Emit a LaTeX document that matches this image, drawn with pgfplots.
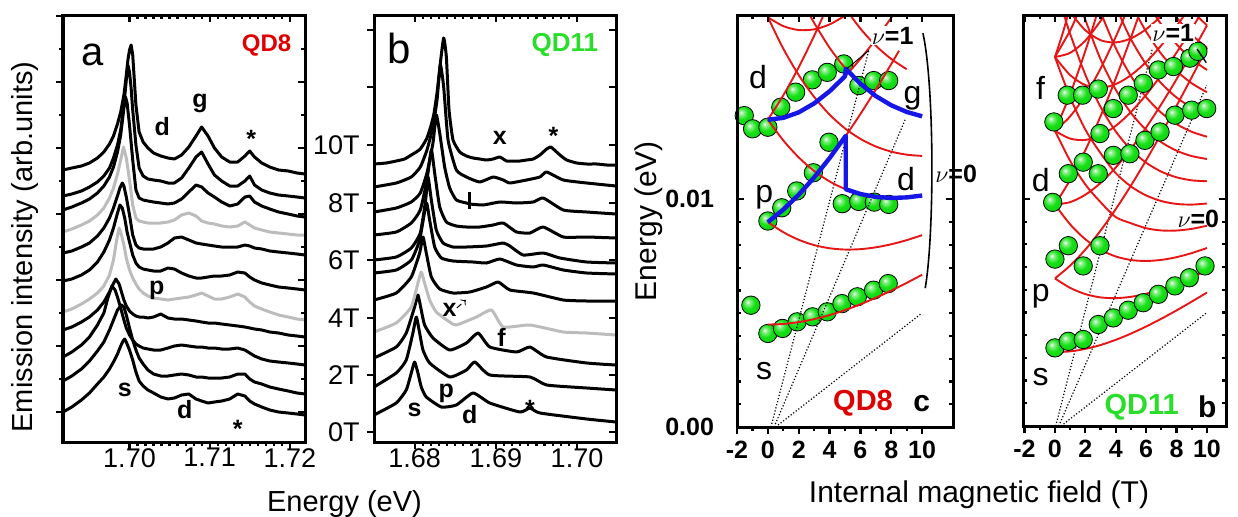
\documentclass[border=0pt]{standalone}
\usepackage{fontspec}
\setmainfont{Liberation Sans}
\usepackage{pgfplots}
\pgfplotsset{compat=1.18}

\definecolor{specgray}{RGB}{188,188,188}
\definecolor{fdred}{RGB}{230,22,22}
\definecolor{fdblue}{RGB}{22,22,230}
\definecolor{qdgreen}{RGB}{40,222,40}
\definecolor{qdred}{RGB}{222,0,0}
\definecolor{ballgreen}{RGB}{20,225,20}

\newcommand{\fs}[1]{\fontsize{#1}{#1}\selectfont}
\pgfdeclareradialshading{gball}{\pgfpoint{-9bp}{9bp}}{color(0bp)=(white); color(5bp)=(white!55!ballgreen); color(17bp)=(ballgreen); color(42bp)=(ballgreen!88!black); color(60bp)=(ballgreen!75!black)}
\pgfdeclareplotmark{gball}{\shade[shading=gball] (0pt,0pt) circle (\pgfplotmarksize);}

\tikzset{lab/.style={font=\bfseries\fs{12.5}, inner sep=0pt}}
\pgfplotsset{
  panel/.style={scale only axis, anchor=south west,
    axis line style={line width=1.5pt},
    tick style={line width=1.1pt, black},
    major tick length=3.6pt, minor tick length=1.9pt,
    scaled ticks=false, clip mode=individual,
    /pgf/number format/assume math mode=true},
  sp/.style={black, line width=1.5pt, line join=round},
  spg/.style={specgray, line width=1.5pt, line join=round},
  fd/.style={fdred, line width=0.95pt, smooth},
  bl/.style={fdblue, line width=2.2pt, line join=round},
  dots/.style={black, densely dotted, line width=0.6pt},
  balls/.style={only marks, mark=gball, mark size=4.6pt},
}

\begin{document}
\begin{tikzpicture}
\useasboundingbox (0,0) rectangle (619pt,258pt);

% ---------------- panel a : QD8 spectra
\begin{axis}[panel, at={(31.5pt,37pt)}, width=121pt, height=213.5pt,
  xmin=1.6917, xmax=1.7219, ymin=0, ymax=427,
  xtick={1.70,1.71,1.72}, xticklabels={1.70,1.71,1.72}, minor x tick num=9,
  ytick={30,96,162,228,294,360,426}, yticklabels={}, minor y tick num=1,
  tick align=outside, xtick pos=left, ytick pos=left,
  xticklabel style={font=\fs{13.5}, yshift=4pt}]
% 0T
\addplot[sp] coordinates {(1.6917,30)(1.6928,35)(1.6940,42)(1.6950,49)(1.6960,58)(1.6968,65)(1.6975,73)(1.6980,80)(1.6985,88)(1.6989,96)(1.6992,101)(1.6994,103)(1.6996,100)(1.7000,92)(1.7004,82)(1.7008,70)(1.7012,61)(1.7017,56)(1.7023,52)(1.7030,49)(1.7039,45)(1.7048,43)(1.7056,44)(1.7065,47)(1.7074,48)(1.7083,43)(1.7090,41)(1.7098,39)(1.7106,40)(1.7115,41)(1.7125,43)(1.7135,48)(1.7144,46)(1.7150,41)(1.7156,38)(1.7165,35)(1.7175,32)(1.7186,30)(1.7198,29)(1.7209,28)(1.7219,27)};
% 1T
\addplot[sp] coordinates {(1.6917,61)(1.6928,66)(1.6940,73)(1.6950,81)(1.6960,91)(1.6968,100)(1.6975,112)(1.6980,122)(1.6985,132)(1.6990,137)(1.6993,135)(1.6996,127)(1.7000,114)(1.7004,102)(1.7008,92)(1.7012,84)(1.7017,78)(1.7023,72)(1.7030,68)(1.7039,66)(1.7048,66)(1.7056,67)(1.7065,68)(1.7074,67)(1.7083,65)(1.7090,65)(1.7098,64)(1.7106,64)(1.7115,64)(1.7125,65)(1.7135,68)(1.7144,68)(1.7150,63)(1.7156,60)(1.7165,58)(1.7175,55)(1.7186,53)(1.7198,51)(1.7209,49)(1.7219,48)};
% 2T
\addplot[sp] coordinates {(1.6917,85)(1.6928,90)(1.6940,97)(1.6950,105)(1.6960,117)(1.6968,129)(1.6973,144)(1.6978,156)(1.6982,152)(1.6985,145)(1.6989,134)(1.6993,122)(1.6996,114)(1.7000,107)(1.7004,102)(1.7008,98)(1.7012,96)(1.7017,94)(1.7023,93)(1.7030,92)(1.7039,92)(1.7048,94)(1.7056,96)(1.7065,97)(1.7074,96)(1.7083,95)(1.7090,95)(1.7098,94)(1.7106,94)(1.7115,93)(1.7125,93)(1.7135,94)(1.7144,92)(1.7150,89)(1.7156,86)(1.7165,83)(1.7175,81)(1.7186,80)(1.7198,79)(1.7209,78)(1.7219,77)};
% 3T
\addplot[sp] coordinates {(1.6917,112)(1.6928,115)(1.6940,120)(1.6950,125)(1.6960,132)(1.6968,140)(1.6975,150)(1.6979,157)(1.6983,163)(1.6987,158)(1.6990,150)(1.6993,142)(1.6996,136)(1.7000,131)(1.7004,128)(1.7008,126)(1.7012,125)(1.7017,125)(1.7023,124)(1.7030,125)(1.7039,128)(1.7048,124)(1.7056,123)(1.7065,123)(1.7074,122)(1.7083,121)(1.7090,120)(1.7098,119)(1.7106,119)(1.7115,118)(1.7125,117)(1.7135,116)(1.7144,115)(1.7150,114)(1.7156,113)(1.7165,112)(1.7175,110)(1.7186,109)(1.7198,107)(1.7209,106)(1.7219,105)};
% 4T (grey)
\addplot[spg] coordinates {(1.6917,130)(1.6928,133)(1.6940,138)(1.6950,143)(1.6960,149)(1.6968,156)(1.6975,167)(1.6980,182)(1.6984,202)(1.6987,214)(1.6989,210)(1.6993,197)(1.6996,184)(1.7000,172)(1.7004,164)(1.7008,158)(1.7012,153)(1.7017,149)(1.7023,146)(1.7030,144)(1.7039,143)(1.7048,142)(1.7056,143)(1.7065,144)(1.7074,145)(1.7083,147)(1.7090,149)(1.7098,146)(1.7106,143)(1.7115,143)(1.7125,145)(1.7135,148)(1.7144,145)(1.7150,140)(1.7156,136)(1.7165,133)(1.7175,130)(1.7186,127)(1.7198,125)(1.7209,123)(1.7219,122)};
% 5T
\addplot[sp] coordinates {(1.6917,161)(1.6928,163)(1.6940,167)(1.6950,172)(1.6960,180)(1.6968,190)(1.6975,202)(1.6980,214)(1.6985,229)(1.6988,237)(1.6991,234)(1.6994,224)(1.6997,210)(1.7000,200)(1.7004,187)(1.7008,179)(1.7012,175)(1.7017,173)(1.7023,172)(1.7030,171)(1.7039,171)(1.7048,174)(1.7056,173)(1.7065,169)(1.7074,166)(1.7083,164)(1.7090,164)(1.7098,165)(1.7106,166)(1.7115,166)(1.7125,167)(1.7135,170)(1.7144,169)(1.7150,165)(1.7156,162)(1.7165,159)(1.7175,157)(1.7186,155)(1.7198,154)(1.7209,153)(1.7219,152)};
% 6T
\addplot[sp] coordinates {(1.6917,189)(1.6928,191)(1.6940,195)(1.6950,199)(1.6960,206)(1.6968,214)(1.6975,224)(1.6980,234)(1.6985,246)(1.6988,254)(1.6991,259)(1.6993,256)(1.6996,245)(1.7000,227)(1.7004,207)(1.7008,197)(1.7012,194)(1.7017,193)(1.7023,193)(1.7030,193)(1.7039,195)(1.7048,199)(1.7056,204)(1.7065,205)(1.7074,202)(1.7083,199)(1.7090,198)(1.7098,197)(1.7106,196)(1.7115,195)(1.7125,195)(1.7135,195)(1.7144,197)(1.7150,196)(1.7156,194)(1.7165,193)(1.7175,191)(1.7186,190)(1.7198,189)(1.7209,188)(1.7219,187)};
% 7T (grey)
\addplot[spg] coordinates {(1.6917,210)(1.6928,213)(1.6940,217)(1.6950,221)(1.6960,227)(1.6968,234)(1.6975,244)(1.6980,254)(1.6985,268)(1.6989,282)(1.69925,295)(1.6996,284)(1.7000,262)(1.7004,237)(1.7008,224)(1.7012,221)(1.7017,220)(1.7023,219)(1.7030,219)(1.7039,219)(1.7048,220)(1.7056,222)(1.7065,227)(1.7074,229)(1.7083,226)(1.7090,221)(1.7098,219)(1.7106,218)(1.7115,216)(1.7125,215)(1.7135,216)(1.7144,220)(1.7150,217)(1.7156,214)(1.7165,212)(1.7175,210)(1.7186,209)(1.7198,208)(1.7209,207)(1.7219,207)};
% 8T
\addplot[sp] coordinates {(1.6917,232)(1.6928,235)(1.6940,239)(1.6950,243)(1.6960,249)(1.6968,256)(1.6975,265)(1.6980,275)(1.6985,290)(1.6989,307)(1.6993,334)(1.6995,345)(1.6997,339)(1.7000,317)(1.7004,282)(1.7008,252)(1.7012,244)(1.7017,242)(1.7023,241)(1.7030,240)(1.7039,239)(1.7048,238)(1.7056,239)(1.7065,243)(1.7074,250)(1.7083,257)(1.7090,255)(1.7098,249)(1.7106,245)(1.7115,240)(1.7125,236)(1.7135,238)(1.7144,245)(1.7150,246)(1.7156,240)(1.7165,236)(1.7175,233)(1.7186,230)(1.7198,228)(1.7209,226)(1.7219,225)};
% 9T
\addplot[sp] coordinates {(1.6917,246)(1.6928,248)(1.6940,251)(1.6950,255)(1.6960,260)(1.6968,266)(1.6975,274)(1.6980,284)(1.6985,297)(1.6989,312)(1.6993,337)(1.6996,362)(1.6998,377)(1.7000,370)(1.7002,354)(1.7004,332)(1.7008,297)(1.7012,274)(1.7017,266)(1.7023,263)(1.7030,262)(1.7039,261)(1.7048,259)(1.7056,259)(1.7065,264)(1.7074,274)(1.7083,285)(1.7090,290)(1.7098,278)(1.7106,267)(1.7115,261)(1.7125,256)(1.7135,256)(1.7144,261)(1.7150,266)(1.7156,257)(1.7165,252)(1.7175,249)(1.7186,247)(1.7198,246)(1.7209,245)(1.7219,244)};
% 10T
\addplot[sp] coordinates {(1.6917,272)(1.6928,274)(1.6940,276)(1.6950,279)(1.6960,284)(1.6968,290)(1.6975,298)(1.6980,306)(1.6985,318)(1.6989,330)(1.6993,347)(1.6996,367)(1.6998,382)(1.7000,392)(1.7002,397)(1.7004,387)(1.7006,362)(1.7008,337)(1.7012,310)(1.7017,300)(1.7023,294)(1.7030,289)(1.7039,286)(1.7048,284)(1.7056,283)(1.7065,287)(1.7074,295)(1.7083,306)(1.7090,315)(1.7098,306)(1.7106,294)(1.7115,285)(1.7125,280)(1.7135,280)(1.7144,286)(1.7150,291)(1.7156,285)(1.7165,279)(1.7175,275)(1.7186,272)(1.7198,271)(1.7209,269)(1.7219,268)};
\node[font=\fs{20}] at (axis cs:1.6954,387) {a};
\node[font=\bfseries\fs{12}, text=qdred] at (axis cs:1.7171,397) {QD8};
\node[lab] at (axis cs:1.7041,315) {d};
\node[lab] at (axis cs:1.7088,339) {g};
\node[lab, yshift=-2.7pt] at (axis cs:1.7152,309) {*};
\node[lab] at (axis cs:1.7034,152) {p};
\node[lab] at (axis cs:1.6994,52) {s};
\node[lab] at (axis cs:1.7069,32) {d};
\node[lab, yshift=-2.7pt] at (axis cs:1.7135,19) {*};
\end{axis}
\begin{axis}[panel, at={(31.5pt,37pt)}, width=121pt, height=213.5pt,
  xmin=1.6917, xmax=1.7219, ymin=0, ymax=427,
  xtick={1.70,1.71,1.72}, xticklabels={}, minor x tick num=9,
  ytick={30,96,162,228,294,360,426}, yticklabels={}, minor y tick num=1,
  tick align=inside, xtick pos=right, ytick pos=right]
\end{axis}

% ---------------- panel b : QD11 spectra
\begin{axis}[panel, at={(187pt,37pt)}, width=121pt, height=213.5pt,
  xmin=1.6750, xmax=1.7048, ymin=0, ymax=427,
  xtick={1.68,1.69,1.70}, xticklabels={1.68,1.69,1.70}, minor x tick num=9,
  ytick={10,67,124,182,239,297,355,412}, yticklabels={0T,2T,4T,6T,8T,10T,,},
  tick align=outside, xtick pos=left, ytick pos=left,
  xticklabel style={font=\fs{13.5}, yshift=4pt},
  yticklabel style={font=\fs{13.5}}]
\addplot[sp, smooth, tension=0.3] coordinates {(1.6750,27)(1.67774,39)(1.67897,52)(1.67959,69)(1.68000,80)(1.68041,69)(1.68082,55)(1.68144,45)(1.68329,35)(1.68514,37)(1.68720,49)(1.68926,39)(1.69296,30)(1.69420,34)(1.69543,29)(1.70119,23)(1.7048,20)};
\addplot[sp, smooth, tension=0.3] coordinates {(1.6750,55)(1.67774,69)(1.67897,82)(1.67979,109)(1.68021,125)(1.68062,109)(1.68103,92)(1.68185,79)(1.68432,65)(1.68638,72)(1.68741,80)(1.68926,67)(1.69420,65)(1.69626,57)(1.70119,54)(1.7048,52)};
\addplot[sp, smooth, tension=0.3] coordinates {(1.6750,84)(1.67774,95)(1.67897,109)(1.68000,135)(1.68041,147)(1.68082,132)(1.68123,117)(1.68226,104)(1.68432,92)(1.68638,99)(1.68782,109)(1.68926,95)(1.69255,90)(1.69420,95)(1.69626,85)(1.70119,79)(1.7048,77)};
\addplot[spg, smooth, tension=0.3] coordinates {(1.6750,110)(1.67774,119)(1.67959,135)(1.68041,159)(1.68082,170)(1.68123,159)(1.68185,142)(1.68267,130)(1.68432,120)(1.68514,117)(1.68761,125)(1.68947,132)(1.69091,115)(1.69420,117)(1.69831,110)(1.70119,109)(1.7048,107)};
\addplot[sp, smooth, tension=0.3] coordinates {(1.6750,142)(1.67774,149)(1.67959,165)(1.68062,189)(1.68103,205)(1.68144,189)(1.68206,165)(1.68309,153)(1.68473,149)(1.68679,150)(1.68885,155)(1.69029,160)(1.69173,152)(1.69461,149)(1.69831,142)(1.70119,141)(1.7048,141)};
\addplot[sp, smooth, tension=0.3] coordinates {(1.6750,169)(1.67774,172)(1.67959,182)(1.68062,202)(1.68144,239)(1.68185,222)(1.68247,195)(1.68329,184)(1.68473,181)(1.68720,180)(1.68885,179)(1.69049,183)(1.69255,177)(1.69461,175)(1.69584,177)(1.69831,172)(1.70119,169)(1.7048,168)};
\addplot[sp, smooth, tension=0.3] coordinates {(1.6750,182)(1.67774,185)(1.67959,194)(1.68070,209)(1.68136,242)(1.68165,265)(1.68206,242)(1.68267,212)(1.68350,199)(1.68473,195)(1.68638,195)(1.68885,196)(1.69091,199)(1.69173,196)(1.69337,187)(1.69584,189)(1.69790,184)(1.70119,180)(1.7048,179)};
\addplot[sp, smooth, tension=0.3] coordinates {(1.6750,207)(1.67774,210)(1.67959,219)(1.68070,232)(1.68152,262)(1.68206,292)(1.68247,269)(1.68309,235)(1.68391,220)(1.68514,216)(1.68638,215)(1.68802,215)(1.68967,217)(1.69091,219)(1.69255,210)(1.69420,209)(1.69584,215)(1.69831,205)(1.70119,205)(1.7048,204)};
\addplot[sp, smooth, tension=0.3] coordinates {(1.6750,230)(1.67774,234)(1.67959,240)(1.68070,249)(1.68152,269)(1.68226,299)(1.68267,327)(1.68309,309)(1.68370,275)(1.68432,254)(1.68514,242)(1.68638,239)(1.68679,238)(1.68844,237)(1.69049,240)(1.69255,239)(1.69461,240)(1.69584,244)(1.69831,232)(1.70119,230)(1.7048,228)};
\addplot[sp, smooth, tension=0.3] coordinates {(1.6750,255)(1.67774,259)(1.67959,265)(1.68070,275)(1.68152,292)(1.68226,315)(1.68276,342)(1.68317,377)(1.68358,355)(1.68412,302)(1.68514,272)(1.68638,265)(1.68802,260)(1.68967,265)(1.69091,262)(1.69173,259)(1.69379,262)(1.69543,265)(1.69626,270)(1.69831,262)(1.70119,259)(1.7048,256)};
\addplot[sp, smooth, tension=0.3] coordinates {(1.6750,278)(1.67650,279)(1.67774,281)(1.67877,283)(1.67959,287)(1.68021,290)(1.68070,293)(1.68111,298)(1.68152,304)(1.68193,314)(1.68235,327)(1.68276,349)(1.68317,379)(1.68358,404)(1.68391,385)(1.68424,332)(1.68473,302)(1.68556,290)(1.68638,286)(1.68720,284)(1.68802,283)(1.68885,282)(1.68967,283)(1.69049,285)(1.69132,281)(1.69214,281)(1.69296,281)(1.69379,282)(1.69461,283)(1.69543,287)(1.69626,293)(1.69675,295)(1.69708,293)(1.69790,287)(1.69872,282)(1.69996,279)(1.70119,278)(1.70243,278)(1.70366,277)(1.7048,277)};
\node[font=\fs{21}] at (axis cs:1.67815,394) {b};
\node[font=\bfseries\fs{13}, text=qdgreen] at (axis cs:1.6985,397) {QD11};
\node[lab] at (axis cs:1.6905,304) {x};
\node[lab, yshift=-2.7pt] at (axis cs:1.6971,312) {*};
\node[lab] at (axis cs:1.6843,132) {x};
\draw[->, densely dashed, line width=0.5pt] (axis cs:1.6852,134) -- (axis cs:1.6863,142);
\node[lab] at (axis cs:1.6907,105) {f};
\node[lab] at (axis cs:1.6839,49) {p};
\node[lab] at (axis cs:1.6800,32) {s};
\node[lab] at (axis cs:1.6868,27) {d};
\node[lab, yshift=-2.7pt] at (axis cs:1.6942,39) {*};
\draw[line width=1.3pt] (axis cs:1.68679,250) -- (axis cs:1.68679,233);
\end{axis}
\begin{axis}[panel, at={(187pt,37pt)}, width=121pt, height=213.5pt,
  xmin=1.6750, xmax=1.7048, ymin=0, ymax=427,
  xtick={1.68,1.69,1.70}, xticklabels={}, minor x tick num=9,
  ytick={10,67,124,182,239,297,355,412}, yticklabels={},
  tick align=inside, xtick pos=right, ytick pos=right]
\end{axis}

% ---------------- panel c : QD8 levels
\begin{axis}[panel, at={(368.5pt,44.5pt)}, width=108pt, height=206pt,
  xmin=-2, xmax=12, ymin=0, ymax=0.0181,
  xtick={-2,0,...,10}, xticklabels={-2,0,2,4,6,8,10}, minor x tick num=1,
  ytick=\empty, tick align=outside, xtick pos=left,
  xticklabel style={font=\bfseries\fs{12.5}}]
\addplot[balls] coordinates {(-1.1,0.00535)(0,0.00411)(0.95,0.00433)(1.9,0.00462)(2.9,0.00484)(3.85,0.00506)(4.8,0.00542)(5.8,0.00572)(6.85,0.00601)(7.8,0.0063)};
\addplot[balls] coordinates {(0,0.00905)(0.9,0.00963)(1.87,0.01037)(2.95,0.01117)(3.96,0.01251)(4.82,0.00981)(5.89,0.00991)(6.9,0.00988)(7.83,0.00978)};
\addplot[balls] coordinates {(-1.53,0.01368)(-0.99,0.0131)(0,0.01317)(0.84,0.01405)(1.8,0.01471)(2.88,0.01525)(3.85,0.01558)(4.92,0.01595)(5.9,0.015)(6.86,0.01522)(7.83,0.01522)};
\addplot[dots] coordinates {(0.2,0) (6.54,0.01654)};
\addplot[dots] coordinates {(0.4,0) (8.9,0.0135)};
\addplot[dots] coordinates {(0.5,0) (9.98,0.005)};
\addplot[fd] coordinates {(0,0.0045)(1,0.004527)(2,0.004608)(3,0.004739)(4,0.004916)(5,0.005136)(6,0.005392)(7,0.005679)(8,0.005994)(9,0.006332)(10,0.00669)};
\addplot[fd] coordinates {(0,0.009)(1,0.008559)(2,0.008225)(3,0.007992)(4,0.007853)(5,0.007796)(6,0.007813)(7,0.007894)(8,0.008029)(9,0.008209)(10,0.008429)};
\addplot[fd] coordinates {(0,0.009)(1,0.009549)(2,0.010205)(3,0.010962)(4,0.011813)(5,0.012746)(6,0.013753)(7,0.014824)(8,0.015949)(8.5,0.016529)};
\addplot[fd] coordinates {(0,0.0135)(1,0.012591)(2,0.011843)(3,0.011246)(4,0.010789)(5,0.010457)(6,0.010235)(7,0.010108)(8,0.010063)(9,0.010087)(10,0.010169)};
\addplot[fd] coordinates {(0,0.0135)(1,0.013581)(2,0.013823)(3,0.014216)(4,0.014749)(5,0.015407)(6,0.016175)(7,0.017038)(8,0.017983)(8.1,0.0181)};
\addplot[fd] coordinates {(0,0.0135)(1,0.014571)(2,0.015803)(3,0.017186)(3.6,0.018084)};
\addplot[fd] coordinates {(0,0.018)(1,0.016623)(2,0.01546)(3,0.0145)(4,0.013726)(5,0.013118)(6,0.012657)(7,0.012323)(8,0.012097)(9,0.011964)(10,0.011909)};
\addplot[fd] coordinates {(0,0.018)(1,0.017613)(2,0.01744)(3,0.01747)(4,0.017686)(5,0.018068)(5.1,0.0181)};
\addplot[fd] coordinates {(2.7,0.01812)(3,0.017754)(4,0.016662)(5,0.015779)(6,0.015079)(7,0.014537)(8,0.014132)(9,0.013841)(10,0.013649)};
\addplot[fd] coordinates {(5.3,0.018136)(6,0.0175)(7,0.016751)(8,0.016166)(9,0.015718)};
\addplot[bl] coordinates {(0,0.0135)(1,0.013581)(2,0.013823)(3,0.014216)(4,0.014749)(5,0.015407)(5.05,0.01574)(6,0.015079)(7,0.014537)(8,0.014132)(9,0.013841)(10,0.013649)};
\addplot[bl] coordinates {(0,0.009)(1,0.009549)(2,0.010205)(3,0.010962)(4,0.011813)(5,0.012746)(5.05,0.012795)(5.05,0.010444)(6,0.010235)(7,0.010108)(8,0.010063)(9,0.010087)(10,0.010169)};
\draw[line width=0.5pt] (axis cs:6.54,0.01654) -- (axis cs:5.14,0.01575);
\draw[line width=0.8pt] (axis cs:10.05,0.0173) .. controls (axis cs:10.8,0.0150) and (axis cs:10.8,0.0085) .. (axis cs:10.2,0.0061);
\node[font=\fs{16}] at (axis cs:-0.63,0.01536) {d};
\node[font=\fs{16}] at (axis cs:-0.24,0.0101) {p};
\node[font=\fs{16}] at (axis cs:-0.24,0.00247) {s};
\node[font=\fs{16}] at (axis cs:9.38,0.01446) {g};
\node[font=\fs{16}] at (axis cs:8.95,0.01091) {d};
\node[font=\bfseries\fs{12.5}, fill=white, inner sep=0.5pt] at (axis cs:8.09,0.01719) {$\nu$=1};
\node[font=\bfseries\fs{12.5}, fill=white, inner sep=0.5pt] at (axis cs:12.2,0.01114) {$\nu$=0};
\node[font=\bfseries\fs{14.5}, text=qdred] at (axis cs:6.17,0.00104) {QD8};
\node[font=\bfseries\fs{15}] at (axis cs:9.98,0.00104) {c};
\end{axis}
\begin{axis}[panel, at={(368.5pt,44.5pt)}, width=108pt, height=206pt,
  xmin=-2, xmax=12, ymin=0, ymax=0.0181,
  xtick={-2,0,...,10}, xticklabels={}, minor x tick num=1,
  ytick={0,0.01}, yticklabels={0.00,0.01}, minor y tick num=9,
  tick align=inside, xtick pos=right, ytick pos=both,
  yticklabel shift=8pt,
  yticklabel style={font=\bfseries\fs{12.5}}]
\end{axis}

% ---------------- panel d : QD11 levels
\begin{axis}[panel, at={(511.5pt,45pt)}, width=101.5pt, height=205.5pt,
  xmin=-2.1, xmax=11.25, ymin=0, ymax=0.0181,
  xtick={-2,0,...,10}, xticklabels={-2,0,2,4,6,8,10}, minor x tick num=1,
  ytick=\empty, tick align=outside, xtick pos=left,
  xticklabel style={font=\bfseries\fs{12.5}}]
\addplot[dots] coordinates {(0.05,0) (6.4,0.0166)};
\addplot[dots] coordinates {(0.25,0) (9.98,0.01501)};
\addplot[dots] coordinates {(0.4,0) (9.98,0.00499)};
\addplot[fd] coordinates {(0,0.00325)(1,0.003287)(2,0.003395)(3,0.003567)(4,0.003795)(5,0.00407)(6,0.004383)(7,0.004725)(8,0.005092)(9,0.005478)(10,0.00588)};
\addplot[fd] coordinates {(0,0.0065)(1,0.006083)(2,0.005809)(3,0.005664)(4,0.005631)(5,0.00569)(6,0.005825)(7,0.00602)(8,0.006264)(9,0.006546)(10,0.00686)};
\addplot[fd] coordinates {(0,0.0065)(1,0.007063)(2,0.007769)(3,0.008604)(4,0.009551)(5,0.01059)(6,0.011705)(7,0.01288)(8,0.014104)(9,0.015366)(10,0.01666)};
\addplot[fd] coordinates {(0,0.00975)(1,0.00888)(2,0.008224)(3,0.007761)(4,0.007466)(5,0.00731)(6,0.007268)(7,0.007316)(8,0.007436)(9,0.007615)(10,0.00784)};
\addplot[fd] coordinates {(0,0.00975)(1,0.00986)(2,0.010184)(3,0.010701)(4,0.011386)(5,0.01221)(6,0.013148)(7,0.014176)(8,0.015276)(9,0.016435)(10,0.01764)};
\addplot[fd] coordinates {(0,0.00975)(1,0.01084)(2,0.012144)(3,0.013641)(4,0.015306)(5,0.01711)(5.5,0.018056)};
\addplot[fd] coordinates {(0,0.013)(1,0.011677)(2,0.010638)(3,0.009858)(4,0.009201)(5,0.00893)(6,0.00871)(7,0.008611)(8,0.008608)(9,0.008683)(10,0.00882)};
\addplot[fd] coordinates {(0,0.013)(1,0.012657)(2,0.012598)(3,0.012798)(4,0.013221)(5,0.01383)(6,0.01459)(7,0.015471)(8,0.016448)(9,0.017503)(9.5,0.018054)};
\addplot[fd] coordinates {(0,0.013)(1,0.013637)(2,0.014558)(3,0.015738)(4,0.017141)(4.6,0.018074)};
\addplot[fd] coordinates {(0,0.013)(1,0.014617)(2,0.016518)(2.7,0.018005)};
\addplot[fd] coordinates {(0,0.01625)(1,0.014474)(2,0.013053)(3,0.012015)(4,0.011137)(5,0.01055)(6,0.010153)(7,0.009906)(8,0.00978)(9,0.009751)(10,0.0098)};
\addplot[fd] coordinates {(0,0.01625)(1,0.015454)(2,0.015013)(3,0.014895)(4,0.015057)(5,0.01545)(6,0.016033)(7,0.016766)(8,0.01762)(8.5,0.018085)};
\addplot[fd] coordinates {(0,0.01625)(1,0.016434)(2,0.016973)(3,0.017835)(3.2,0.018043)};
\addplot[fd] coordinates {(0,0.01625)(1,0.017414)(1.45,0.0181)};
\addplot[fd] coordinates {(0,0.01625)(0.5,0.017276)(0.85,0.0181)};
\addplot[fd] coordinates {(0.6,0.01811)(1,0.01727)(2,0.015468)(3,0.014052)(4,0.012972)(5,0.01217)(6,0.011595)(7,0.011201)(8,0.010952)(9,0.010819)(10,0.010779)};
\addplot[fd] coordinates {(1.15,0.0181)(2,0.017428)(3,0.016992)(4,0.016892)(5,0.01707)(6,0.017475)(7,0.018061)};
\addplot[fd] coordinates {(1.88,0.0181)(2,0.017882)(3,0.016149)(4,0.014807)(5,0.01379)(6,0.013038)(7,0.012496)(8,0.012124)(9,0.011887)(10,0.011759)};
\addplot[fd] coordinates {(3.08,0.0181)(4,0.016642)(5,0.01541)(6,0.01448)(7,0.013792)(8,0.013296)(9,0.012956)(10,0.012739)};
\addplot[fd] coordinates {(4.25,0.0181)(5,0.01703)(6,0.015923)(7,0.015087)(8,0.014468)(9,0.014024)(10,0.013719)};
\addplot[fd] coordinates {(5.4,0.0181)(6,0.017365)(7,0.016382)(8,0.01564)(9,0.015092)(10,0.014699)};
\addplot[fd] coordinates {(6.58,0.0181)(7,0.017677)(8,0.016812)(9,0.01616)(10,0.015679)};
\addplot[fd] coordinates {(7.85,0.0181)(8,0.017984)(9,0.017228)(10,0.016659)};
\addplot[fd] coordinates {(9.28,0.0181)(10,0.017639)};
\addplot[balls] coordinates {(0,0.00344)(0.88,0.00373)(1.86,0.00381)(2.85,0.00447)(3.84,0.00476)(4.82,0.0051)(5.81,0.00543)(6.8,0.0058)(7.89,0.00617)(8.84,0.00653)(9.87,0.00705)};
\addplot[balls] coordinates {(0,0.00735)(0.88,0.00794)(1.86,0.00705)(2.96,0.00794)};
\addplot[balls] coordinates {(-0.15,0.00985)(0.88,0.01111)(1.86,0.01162)(2.85,0.01111)(3.84,0.01192)(4.93,0.01199)(5.92,0.01258)(6.91,0.01295)(7.89,0.01369)(8.99,0.01391)(9.98,0.01398)};
\addplot[balls] coordinates {(-0.07,0.01339)(0.81,0.01457)(1.82,0.01457)(2.85,0.01484)(2.96,0.01288)(3.84,0.01398)(4.82,0.01457)(5.81,0.01509)(6.8,0.01568)(7.79,0.01583)(8.88,0.0162)(9.4,0.0165)};
\draw[line width=0.7pt] (axis cs:9.35,0.0166) -- (axis cs:9.95,0.0160);
\node[font=\fs{16}] at (axis cs:-0.94,0.0149) {f};
\node[font=\fs{16}] at (axis cs:-0.94,0.01081) {d};
\node[font=\fs{16}] at (axis cs:-0.94,0.00572) {p};
\node[font=\fs{16}] at (axis cs:-0.94,0.00215) {s};
\node[font=\bfseries\fs{12.5}, fill=white, inner sep=0.5pt] at (axis cs:7.78,0.0173) {$\nu$=1};
\node[font=\bfseries\fs{12.5}] at (axis cs:9.43,0.00912) {$\nu$=0};
\node[font=\bfseries\fs{14.5}, text=qdgreen] at (axis cs:5.7,0.00083) {QD11};
\node[font=\bfseries\fs{15}] at (axis cs:10.02,0.00083) {b};
\end{axis}
\begin{axis}[panel, at={(511.5pt,45pt)}, width=101.5pt, height=205.5pt,
  xmin=-2.1, xmax=11.25, ymin=0, ymax=0.0181,
  xtick={-2,0,...,10}, xticklabels={}, minor x tick num=1,
  ytick={0,0.01}, yticklabels={}, minor y tick num=9,
  tick align=inside, xtick pos=right, ytick pos=both]
\end{axis}

% ---------------- axis titles
\node[rotate=90, font=\fs{14.5}] at (12.5pt,134.5pt) {Emission intensity (arb.units)};
\node[font=\fs{14.5}] at (172.25pt,6pt) {Energy (eV)};
\node[rotate=90, font=\fs{15}] at (324.5pt,147.5pt) {Energy (eV)};
\node[font=\fs{15}] at (489.5pt,10.5pt) {Internal magnetic field (T)};
\end{tikzpicture}
\end{document}
